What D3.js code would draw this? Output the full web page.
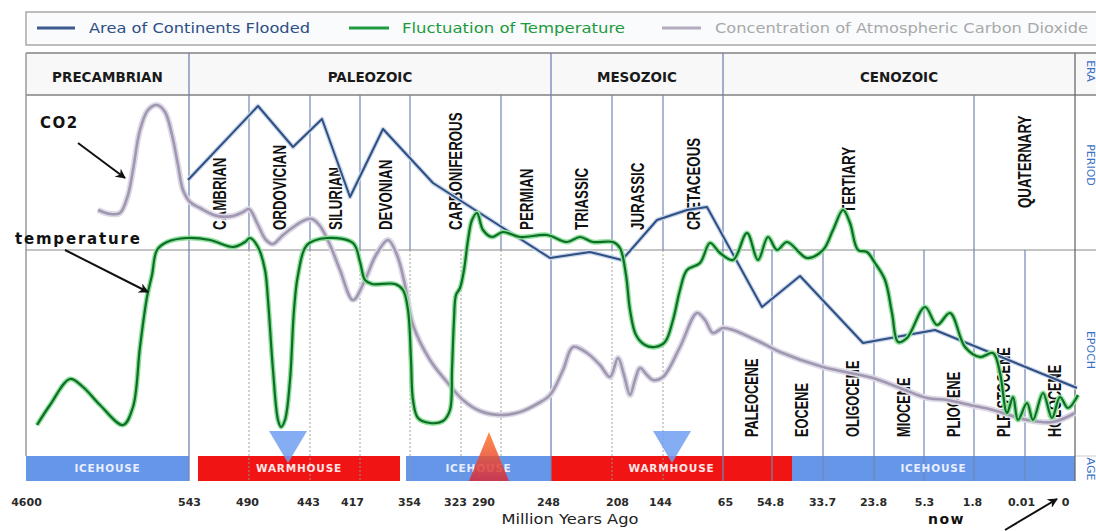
<!DOCTYPE html>
<html><head><meta charset="utf-8">
<script src="https://cdn.jsdelivr.net/npm/d3@7"></script>
<style>body{margin:0;background:#fff;overflow:hidden}svg{display:block}</style>
</head><body><svg id="c" width="1096" height="531"></svg>
<script>
// ---------- DATA (x in timeline units, y in relative level units) ----------
const eraNames = ["PRECAMBRIAN","PALEOZOIC","MESOZOIC","CENOZOIC"];
const eraBounds = [0, 16.3, 52.5, 69.7, 104.9];
const periodNames = ["CAMBRIAN","ORDOVICIAN","SILURIAN","DEVONIAN","CARBONIFEROUS","PERMIAN","TRIASSIC","JURASSIC","CRETACEOUS","TERTIARY","QUATERNARY"];
const periodBounds = [16.3, 22.3, 28.4, 33.4, 38.4, 47.5, 52.5, 58.6, 63.7, 69.7, 94.8, 104.9];
const epochNames = ["PALEOCENE","EOCENE","OLIGOCENE","MIOCENE","PLIOCENE","PLEISTOCENE","HOLOCENE"];
const epochBounds = [69.7, 74.6, 79.7, 84.8, 89.8, 94.8, 99.9, 104.9];
const subBounds = [22.3, 28.4, 33.4, 38.4, 43.5, 47.5, 58.6, 63.7];
const climateNames = ["ICEHOUSE","WARMHOUSE","ICEHOUSE","WARMHOUSE","ICEHOUSE"];
const climateStart = [0, 17.2, 38.0, 52.5, 76.6];
const climateEnd = [16.3, 37.4, 52.5, 76.6, 104.9];
const tickLabels = ["4600","543","490","443","417","354","323","290","248","208","144","65","54.8","33.7","23.8","5.3","1.8","0.01","0"];
const tickPos = [0, 16.3, 22.1, 28.2, 32.6, 38.3, 42.9, 45.7, 52.2, 59.1, 63.4, 69.9, 74.4, 79.6, 84.7, 89.8, 94.6, 99.5, 103.9];
const shiftTypes = ["cool","warm","cool"];
const shiftPos = [26.2, 46.3, 64.6];
const legendNames = ["Area of Continents Flooded","Fluctuation of Temperature","Concentration of Atmospheric Carbon Dioxide"];
const sideLabels = ["ERA","PERIOD","EPOCH","AGE"];

const floodedSeries = [[16.2,27.2],[23.2,34.6],[26.7,30.5],[29.6,33.3],[32.4,25.5],[35.7,32.3],[40.7,26.9],[52.4,19.4],[56.4,20.0],[59.6,19.2],[63.1,23.2],[66.1,24.2],[68.1,24.5],[73.6,14.5],[77.4,17.6],[83.7,10.9],[90.9,12.2],[105.1,6.4]];

const co2Series = [[7.2,24.2],[8.4,23.8],[9.4,23.9],[10.2,25.7],[10.7,28.2],[11.4,32.2],[12.2,34.2],[13.1,34.7],[13.9,34.0],[14.6,31.7],[15.2,28.7],[15.7,26.2],[16.4,25.0],[17.4,24.4],[19.1,23.6],[20.7,23.6],[21.7,24.0],[22.3,24.3],[23.2,22.7],[24.0,21.2],[24.7,20.8],[25.6,21.6],[26.6,22.4],[27.9,23.2],[28.6,23.3],[29.4,22.6],[30.4,20.7],[31.4,18.2],[32.7,15.2],[33.9,17.2],[35.0,19.7],[36.2,21.2],[37.1,19.7],[37.9,16.7],[38.7,12.7],[40.4,9.2],[42.1,7.0],[43.7,5.2],[45.4,4.1],[47.4,3.7],[49.4,4.0],[51.1,4.8],[52.4,5.7],[53.7,8.2],[54.7,10.5],[56.1,9.9],[57.4,8.7],[58.4,7.5],[59.2,9.4],[59.8,7.7],[60.4,5.7],[60.9,7.2],[61.4,8.4],[62.1,7.7],[62.7,7.2],[63.7,7.5],[65.4,10.5],[67.1,13.9],[67.9,13.2],[68.7,11.9],[69.7,12.4],[70.7,12.2],[73.4,11.0],[75.4,10.0],[79.7,8.5],[84.7,7.4],[87.4,6.4],[90.1,5.4],[92.1,5.2],[94.4,4.7],[96.7,4.2],[100.1,3.2],[102.7,3.0],[104.9,3.9]];

const tempSeries = [[1.1,2.7],[2.4,4.7],[4.4,7.3],[5.7,6.5],[7.4,4.7],[9.7,2.7],[10.7,4.5],[11.4,10.5],[12.1,15.5],[12.6,17.7],[13.1,20.2],[14.1,21.0],[16.1,21.4],[18.4,21.2],[20.7,20.5],[21.9,21.0],[22.4,21.4],[23.2,20.5],[23.9,18.2],[24.2,15.2],[24.7,8.2],[25.2,3.2],[25.5,2.5],[25.9,3.2],[26.4,7.2],[26.8,14.2],[27.2,17.7],[28.1,20.7],[30.1,21.4],[32.7,20.9],[33.4,19.0],[33.9,17.2],[34.6,16.8],[36.9,16.8],[37.7,16.2],[38.2,14.2],[38.5,9.2],[38.7,5.2],[39.2,3.4],[40.4,2.9],[41.7,3.1],[42.4,4.2],[42.6,8.2],[42.8,13.2],[43.0,15.7],[43.4,16.4],[43.8,18.2],[44.2,21.2],[44.6,23.2],[45.1,23.9],[45.7,22.2],[46.6,21.5],[47.7,22.0],[49.4,21.5],[52.1,21.7],[54.1,21.0],[55.4,21.5],[56.7,21.0],[58.7,21.0],[59.4,20.4],[60.0,17.7],[60.4,14.2],[61.0,11.7],[61.9,10.7],[62.9,10.5],[63.9,11.0],[64.7,13.2],[65.4,16.2],[66.1,18.2],[67.4,18.9],[68.4,20.9],[69.4,19.9],[70.7,19.2],[72.1,21.9],[73.2,19.2],[74.2,21.5],[75.1,20.2],[76.1,21.0],[78.1,19.4],[79.7,20.2],[80.7,22.2],[81.7,24.2],[82.4,22.9],[83.2,20.2],[84.1,20.0],[84.9,18.9],[85.9,17.2],[86.6,13.9],[87.2,11.0],[88.1,11.4],[89.9,14.5],[91.1,12.7],[92.4,13.9],[93.9,10.5],[95.4,9.5],[96.7,9.9],[97.4,7.9],[98.1,3.9],[98.7,5.5],[99.2,3.2],[100.1,4.9],[100.7,3.2],[101.7,5.9],[102.6,3.4],[103.4,5.5],[104.2,4.4],[105.2,5.7]];

// annotations (in the same data units)
const annoLabels = ["CO2","temperature","now"];
const annoTextPos = [[1.4,32.4],[-1.1,20.8],[90.2,-7.2]];
const annoArrowFrom = [[5.2,30.9],[3.9,20.2],[97.9,-7.8]];
const annoArrowTo = [[9.9,27.4],[12.2,16.0],[103.1,-4.7]];

// ---------- LAYOUT ----------
const W = 1096, H = 531;
const svg = d3.select("#c");
const x = d3.scaleLinear().domain([0, 104.9]).range([26, 1075]);
const y = d3.scaleLinear().domain([0, 36]).range([452, 92]);
const L = {tableTop:53, eraBottom:95, periodBottom:250, barTop:456, barBottom:481, right:1096};
const F = "'DejaVu Sans', Verdana, sans-serif";
const LINE_BLUE = "#6f86b4";

// legend
svg.append("rect").attr("x",26).attr("y",12).attr("width",1090).attr("height",33)
  .attr("fill","#f9fbfd").attr("stroke","#a9a9a9").attr("stroke-width",1.5);
const legColors = ["#3b5b8c","#1e9a40","#b3acbf"];
const legText = ["#2e4f86","#1d9a3c","#a9a9a9"];
const legSw = [[37,75],[349,389],[662,701]];
const legTx = [[89,221],[402,223],[715,373]];
legendNames.forEach((n,i)=>{
  svg.append("line").attr("x1",legSw[i][0]).attr("x2",legSw[i][1]).attr("y1",28).attr("y2",28)
    .attr("stroke",legColors[i]).attr("stroke-width",3);
  svg.append("text").attr("x",legTx[i][0]).attr("y",33).attr("font-family",F).attr("font-size",13.5)
    .attr("textLength",legTx[i][1]).attr("lengthAdjust","spacingAndGlyphs")
    .attr("fill",legText[i]).text(n);
});

// era header
svg.append("rect").attr("x",26).attr("y",L.tableTop).attr("width",W).attr("height",L.eraBottom-L.tableTop)
  .attr("fill","#f8f8f8");
eraNames.forEach((n,i)=>{
  svg.append("text").attr("x",(x(eraBounds[i])+x(eraBounds[i+1]))/2).attr("y",82)
    .attr("text-anchor","middle").attr("font-family",F).attr("font-weight","bold").attr("font-size",13.5)
    .attr("fill","#1a1a1a").text(n);
});

// climate bars
const climColor = n => n==="ICEHOUSE" ? "#6596e8" : "#f01414";
climateNames.forEach((n,i)=>{
  svg.append("rect").attr("x",x(climateStart[i])).attr("y",L.barTop)
    .attr("width",x(climateEnd[i])-x(climateStart[i])).attr("height",L.barBottom-L.barTop)
    .attr("fill",climColor(n));
});

// horizontal grid
[[L.tableTop,"#a0a0a0",2],[L.eraBottom,"#a0a0a0",2],[L.periodBottom,"#b0b0b0",1.5]].forEach(h=>{
  svg.append("line").attr("x1",26).attr("x2",W).attr("y1",h[0]).attr("y2",h[0])
    .attr("stroke",h[1]).attr("stroke-width",h[2]);
});
svg.append("line").attr("x1",x(104.9)).attr("x2",W).attr("y1",L.barTop).attr("y2",L.barTop).attr("stroke","#ccc");

// vertical grid
function vline(u,y1,y2,color,w,dash,op){
  svg.append("line").attr("x1",x(u)).attr("x2",x(u)).attr("y1",y1).attr("y2",y2)
    .attr("stroke",color).attr("stroke-width",w).attr("stroke-dasharray",dash||null).attr("opacity",op||1);
}
vline(0,L.tableTop,L.barTop,"#9a9a9a",1.5);
eraBounds.slice(1,4).forEach(b=>vline(b,L.tableTop,L.barBottom,LINE_BLUE,1.3));
vline(104.9,L.tableTop,L.barBottom,"#6a6a6a",1.3);
periodBounds.filter(b=>!eraBounds.includes(b) && b<104).forEach(b=>vline(b,L.eraBottom,L.periodBottom,LINE_BLUE,1.2));
vline(94.8,L.periodBottom,L.barBottom,LINE_BLUE,1.2);
subBounds.forEach(b=>vline(b,L.periodBottom,L.barBottom,"#9a9a9a",1,"2,2",0.9));
epochBounds.slice(1,-1).filter(b=>b!==94.8).forEach(b=>vline(b,L.periodBottom,L.barBottom,LINE_BLUE,1.2));

// climate labels
climateNames.forEach((n,i)=>{
  svg.append("text").attr("x",(x(climateStart[i])+x(climateEnd[i]))/2).attr("y",472)
    .attr("text-anchor","middle").attr("font-family",F).attr("font-weight","bold").attr("font-size",10.5)
    .attr("letter-spacing",0.8).attr("fill", n==="ICEHOUSE" ? "#e6eeff" : "#ffe6e6").text(n);
});

// shift triangles
const tri = svg.append("defs");
const gr = tri.append("linearGradient").attr("id","warmg").attr("x1",0).attr("y1",0).attr("x2",0).attr("y2",1);
gr.append("stop").attr("offset","0").attr("stop-color","#ff7a2a");
gr.append("stop").attr("offset","1").attr("stop-color","#d8283a");
shiftTypes.forEach((t,i)=>{
  const cx = x(shiftPos[i]);
  const pts = t==="cool" ? [[cx-19,431],[cx+19,431],[cx,463]] : [[cx,432],[cx+20,481],[cx-20,481]];
  svg.append("path").attr("d","M"+pts.map(p=>p.join(",")).join("L")+"Z")
    .attr("fill", t==="cool" ? "#6f9ff2" : "url(#warmg)").attr("opacity",0.85);
});

// period labels
const labelFont = "'Liberation Sans', Arial, sans-serif";
periodNames.forEach((n,i)=>{
  const cx = (x(periodBounds[i])+x(periodBounds[i+1]))/2;
  const bottom = n==="TERTIARY" ? 213 : n==="QUATERNARY" ? 208 : 230;
  svg.append("text").attr("transform",`translate(${cx+6.5},${bottom}) rotate(-90) scale(0.74,1)`)
    .attr("font-family",labelFont).attr("font-weight","bold").attr("font-size",18).attr("fill","#111").text(n);
});
epochNames.forEach((n,i)=>{
  const cx = (x(epochBounds[i])+x(epochBounds[i+1]))/2 + 4;
  svg.append("text").attr("transform",`translate(${cx+6.5},437) rotate(-90) scale(0.71,1)`)
    .attr("font-family",labelFont).attr("font-weight","bold").attr("font-size",18).attr("fill","#111").text(n);
});

// side labels
const sideY = [71,165,350,469];
sideLabels.forEach((n,i)=>{
  svg.append("text").attr("transform",`translate(1087,${sideY[i]}) rotate(90)`)
    .attr("text-anchor","middle").attr("font-family",F).attr("font-size",11).attr("fill","#3a6fc8").text(n);
});

// series
const line = d3.line().x(d=>x(d[0])).y(d=>y(d[1])).curve(d3.curveCatmullRom.alpha(0.5));
const poly = d3.line().x(d=>x(d[0])).y(d=>y(d[1]));
svg.append("path").attr("d",line(co2Series)).attr("fill","none").attr("stroke","#ddd8e6").attr("stroke-width",6).attr("stroke-linejoin","round");
svg.append("path").attr("d",line(co2Series)).attr("fill","none").attr("stroke","#a097b0").attr("stroke-width",2.6).attr("stroke-linejoin","round");
svg.append("path").attr("d",poly(floodedSeries)).attr("fill","none").attr("stroke","#c9d6ea").attr("stroke-width",4.5).attr("stroke-linejoin","round");
svg.append("path").attr("d",poly(floodedSeries)).attr("fill","none").attr("stroke","#2f4f83").attr("stroke-width",2).attr("stroke-linejoin","round");
svg.append("path").attr("d",line(tempSeries)).attr("fill","none").attr("stroke","#8fe09a").attr("stroke-width",5).attr("stroke-linejoin","round");
svg.append("path").attr("d",line(tempSeries)).attr("fill","none").attr("stroke","#0d6e28").attr("stroke-width",2.2).attr("stroke-linejoin","round");

// axis
const axis = d3.axisBottom(x).tickValues(tickPos).tickFormat((d,i)=>tickLabels[i]).tickSize(0).tickPadding(0);
const ag = svg.append("g").attr("transform","translate(0,498)").call(axis);
ag.select(".domain").remove();
ag.selectAll("text").attr("font-family",F).attr("font-weight","bold").attr("font-size",11)
  .attr("fill","#2a2a2a");
svg.append("text").attr("x",570).attr("y",524).attr("text-anchor","middle").attr("font-family",F)
  .attr("font-size",13.5).attr("textLength",137).attr("lengthAdjust","spacingAndGlyphs")
  .attr("fill","#222").text("Million Years Ago");

// annotations
svg.append("defs").append("marker").attr("id","ah").attr("viewBox","0 0 10 10").attr("refX",9).attr("refY",5)
  .attr("markerWidth",5).attr("markerHeight",5).attr("orient","auto")
  .append("path").attr("d","M0,0L10,5L0,10L3,5Z").attr("fill","#111");
annoLabels.forEach((n,i)=>{
  svg.append("text").attr("x",x(annoTextPos[i][0])).attr("y",y(annoTextPos[i][1]))
    .attr("font-family",F).attr("font-weight","900").attr("font-size", n==="now"?14:15)
    .attr("letter-spacing", n==="temperature"?1.8:1.5).attr("fill","#111").text(n);
  svg.append("line").attr("x1",x(annoArrowFrom[i][0])).attr("y1",y(annoArrowFrom[i][1]))
    .attr("x2",x(annoArrowTo[i][0])).attr("y2",y(annoArrowTo[i][1]))
    .attr("stroke","#111").attr("stroke-width",2).attr("marker-end","url(#ah)");
});
</script></body></html>
